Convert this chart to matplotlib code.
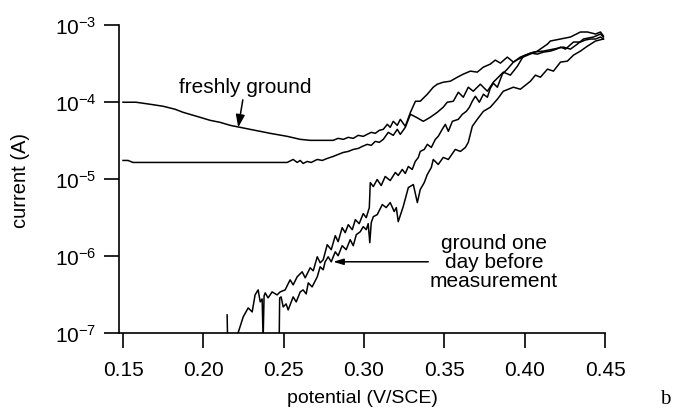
import numpy as np
import matplotlib
matplotlib.use("Agg")
import matplotlib.pyplot as plt
from matplotlib.ticker import FixedLocator, NullLocator

plt.rcParams['font.family'] = ['Liberation Sans', 'DejaVu Sans']
plt.rcParams['mathtext.default'] = 'regular'

# freshly ground, upper trace (potential in V, log10 of current in A)
a_pot = [0.1500, 0.1581, 0.1668, 0.1749, 0.1824, 0.1874, 0.1980, 0.2042, 0.2104, 0.2167,
         0.2229, 0.2291, 0.2354, 0.2416, 0.2522, 0.2603, 0.2665, 0.2808, 0.2839, 0.2871,
         0.2902, 0.2933, 0.2964, 0.2995, 0.3020, 0.3045, 0.3070, 0.3095, 0.3120, 0.3145,
         0.3163, 0.3182, 0.3207, 0.3226, 0.3257, 0.3289, 0.3320, 0.3350, 0.3394, 0.3431,
         0.3456, 0.3493, 0.3537, 0.3581, 0.3618, 0.3662, 0.3705, 0.3743, 0.3786, 0.3817,
         0.3849, 0.3892, 0.3930, 0.3961, 0.4004, 0.4079, 0.4142, 0.4160, 0.4223, 0.4285,
         0.4347, 0.4391, 0.4441, 0.4472, 0.4490]
a_log = [-4.003, -4.003, -4.029, -4.055, -4.094, -4.134, -4.199, -4.238, -4.264, -4.303,
         -4.329, -4.355, -4.381, -4.407, -4.446, -4.485, -4.498, -4.498, -4.472, -4.485,
         -4.459, -4.472, -4.433, -4.446, -4.420, -4.394, -4.407, -4.368, -4.355, -4.290,
         -4.329, -4.251, -4.303, -4.225, -4.316, -4.134, -3.990, -3.990, -3.899, -3.808,
         -3.769, -3.743, -3.730, -3.678, -3.638, -3.599, -3.612, -3.547, -3.508, -3.456,
         -3.495, -3.417, -3.482, -3.443, -3.404, -3.339, -3.248, -3.208, -3.182, -3.156,
         -3.091, -3.091, -3.117, -3.091, -3.143]

# freshly ground, lower trace
b_pot = [0.1500, 0.1531, 0.1562, 0.2522, 0.2559, 0.2584, 0.2603, 0.2621, 0.2646, 0.2671,
         0.2709, 0.2740, 0.2771, 0.2808, 0.2839, 0.2871, 0.2902, 0.2933, 0.2964, 0.2989,
         0.3020, 0.3045, 0.3070, 0.3095, 0.3120, 0.3151, 0.3182, 0.3207, 0.3226, 0.3257,
         0.3289, 0.3326, 0.3369, 0.3412, 0.3456, 0.3493, 0.3518, 0.3556, 0.3587, 0.3618,
         0.3649, 0.3680, 0.3724, 0.3768, 0.3805, 0.3836, 0.3867, 0.3911, 0.3955, 0.3992,
         0.4054, 0.4117, 0.4179, 0.4241, 0.4285, 0.4328, 0.4366, 0.4428, 0.4472, 0.4490]
b_log = [-4.759, -4.759, -4.785, -4.785, -4.746, -4.785, -4.759, -4.798, -4.772, -4.785,
         -4.746, -4.759, -4.733, -4.707, -4.681, -4.655, -4.642, -4.616, -4.603, -4.577,
         -4.550, -4.563, -4.511, -4.524, -4.485, -4.394, -4.433, -4.355, -4.420, -4.329,
         -4.160, -4.199, -4.251, -4.199, -4.134, -4.068, -4.003, -3.990, -3.873, -3.938,
         -3.808, -3.860, -3.769, -3.860, -3.743, -3.678, -3.612, -3.651, -3.534, -3.404,
         -3.352, -3.339, -3.313, -3.287, -3.313, -3.248, -3.182, -3.156, -3.117, -3.156]

# ground one day before, upper trace
c_pot = [0.2148, 0.2151, 0.2185, 0.2216, 0.2248, 0.2279, 0.2304, 0.2322, 0.2341, 0.2354,
         0.2366, 0.2372, 0.2378, 0.2385, 0.2403, 0.2428, 0.2459, 0.2478, 0.2509, 0.2540,
         0.2559, 0.2584, 0.2615, 0.2634, 0.2665, 0.2684, 0.2709, 0.2727, 0.2746, 0.2771,
         0.2796, 0.2821, 0.2839, 0.2864, 0.2883, 0.2902, 0.2927, 0.2946, 0.2970, 0.2995,
         0.3014, 0.3033, 0.3039, 0.3058, 0.3082, 0.3107, 0.3132, 0.3163, 0.3195, 0.3213,
         0.3238, 0.3257, 0.3276, 0.3300, 0.3319, 0.3338, 0.3350, 0.3375, 0.3394, 0.3419,
         0.3444, 0.3462, 0.3487, 0.3506, 0.3525, 0.3550, 0.3587, 0.3612, 0.3637, 0.3656,
         0.3674, 0.3693, 0.3718, 0.3743, 0.3768, 0.3786, 0.3805, 0.3830, 0.3861, 0.3892,
         0.3930, 0.3973, 0.4004, 0.4036, 0.4079, 0.4117, 0.4160, 0.4198, 0.4223, 0.4254,
         0.4304, 0.4347, 0.4378, 0.4409, 0.4441, 0.4472, 0.4490]
c_log = [-6.765, -7.091, -7.091, -7.000, -6.791, -6.674, -6.726, -6.505, -6.440, -6.596,
         -6.557, -7.091, -6.518, -6.479, -6.544, -6.466, -6.505, -6.466, -6.440, -6.309,
         -6.375, -6.270, -6.205, -6.283, -6.153, -6.192, -6.010, -6.088, -6.049, -5.853,
         -5.918, -5.736, -5.814, -5.632, -5.697, -5.593, -5.658, -5.528, -5.580, -5.449,
         -5.502, -5.371, -5.046, -5.098, -5.006, -5.085, -4.967, -5.020, -4.915, -4.954,
         -4.876, -4.928, -4.837, -4.876, -4.772, -4.720, -4.642, -4.616, -4.550, -4.590,
         -4.485, -4.446, -4.355, -4.290, -4.381, -4.251, -4.225, -4.160, -4.121, -4.068,
         -3.990, -3.925, -4.003, -3.899, -3.938, -3.821, -3.756, -3.808, -3.638, -3.573,
         -3.482, -3.417, -3.391, -3.365, -3.378, -3.352, -3.339, -3.313, -3.287, -3.313,
         -3.221, -3.221, -3.195, -3.182, -3.182, -3.156, -3.182]

# ground one day before, lower trace
d_pot = [0.2472, 0.2475, 0.2484, 0.2497, 0.2515, 0.2528, 0.2559, 0.2578, 0.2603, 0.2621,
         0.2640, 0.2653, 0.2677, 0.2709, 0.2727, 0.2746, 0.2758, 0.2777, 0.2796, 0.2821,
         0.2839, 0.2864, 0.2889, 0.2914, 0.2933, 0.2952, 0.2977, 0.2995, 0.3014, 0.3026,
         0.3036, 0.3045, 0.3058, 0.3082, 0.3114, 0.3138, 0.3163, 0.3188, 0.3201, 0.3213,
         0.3244, 0.3276, 0.3307, 0.3332, 0.3350, 0.3375, 0.3394, 0.3419, 0.3431, 0.3462,
         0.3493, 0.3525, 0.3568, 0.3600, 0.3631, 0.3649, 0.3674, 0.3705, 0.3743, 0.3786,
         0.3830, 0.3867, 0.3930, 0.3973, 0.4036, 0.4067, 0.4098, 0.4142, 0.4179, 0.4223,
         0.4266, 0.4304, 0.4347, 0.4391, 0.4441, 0.4490]
d_log = [-7.091, -6.544, -6.531, -6.661, -6.622, -6.700, -6.531, -6.596, -6.466, -6.440,
         -6.492, -6.349, -6.401, -6.270, -6.140, -6.179, -6.075, -6.010, -6.075, -5.945,
         -5.997, -5.866, -5.918, -5.788, -5.866, -5.723, -5.684, -5.619, -5.658, -5.580,
         -5.827, -5.567, -5.489, -5.463, -5.332, -5.371, -5.306, -5.423, -5.371, -5.554,
         -5.358, -5.111, -5.072, -5.306, -5.137, -5.046, -4.941, -4.850, -4.746, -4.811,
         -4.720, -4.746, -4.616, -4.642, -4.590, -4.524, -4.316, -4.225, -4.121, -4.068,
         -3.964, -3.860, -3.808, -3.834, -3.730, -3.651, -3.678, -3.573, -3.599, -3.482,
         -3.469, -3.391, -3.339, -3.274, -3.208, -3.182]

x_ticks = [0.15, 0.20, 0.25, 0.30, 0.35, 0.40, 0.45]
x_labels = ['0.15', '0.20', '0.25', '0.30', '0.35', '0.40', '0.45']
y_ticks = [1e-7, 1e-6, 1e-5, 1e-4, 1e-3]
y_labels = [r'$10^{-7}$', r'$10^{-6}$', r'$10^{-5}$', r'$10^{-4}$', r'$10^{-3}$']

fig = plt.figure(figsize=(6.75, 4.14), dpi=100)
ax = fig.add_axes([0.1763, 0.1932, 0.7200, 0.7440])

for pot, lg in [(a_pot, a_log), (b_pot, b_log), (c_pot, c_log), (d_pot, d_log)]:
    ax.plot(pot, 10 ** np.array(lg), color='black', lw=1.1)

ax.set_yscale('log')
ax.set_xlim(0.1475, 0.45)
ax.set_ylim(1e-7, 1e-3)
ax.yaxis.set_major_locator(FixedLocator(y_ticks))
ax.yaxis.set_minor_locator(NullLocator())
ax.set_yticklabels(y_labels)
ax.set_xticks(x_ticks)
ax.set_xticklabels(x_labels)

for s in ['top', 'right']:
    ax.spines[s].set_visible(False)
for s in ['left', 'bottom']:
    ax.spines[s].set_linewidth(1.2)
ax.tick_params(axis='both', direction='out', length=11, width=1.2, labelsize=15)
ax.tick_params(axis='x', pad=8.5)
ax.tick_params(axis='y', pad=5)

ax.set_xlabel('potential (V/SCE)', fontsize=14, labelpad=7)
ax.set_ylabel('current (A)', fontsize=14.5, labelpad=18)

ax.annotate('freshly ground', xy=(0.2217, 10 ** -4.329), xytext=(0.2260, 10 ** -3.795),
            ha='center', va='center', fontsize=15,
            arrowprops=dict(arrowstyle='-|>,head_length=0.5,head_width=0.18',
                            color='black', lw=1.1, shrinkA=1, shrinkB=0))

ax.annotate('', xy=(0.2808, 10 ** -6.075), xytext=(0.3400, 10 ** -6.075),
            arrowprops=dict(arrowstyle='-|>,head_length=0.6,head_width=0.18',
                            color='black', lw=1.1, shrinkA=0, shrinkB=0))
ax.text(0.3808, 10 ** -6.075, 'ground one\nday before\nmeasurement',
        ha='center', va='center', fontsize=15, linespacing=1.0)

fig.text(0.986, 0.034, 'b', family=['Liberation Serif', 'DejaVu Serif'],
         fontsize=15, ha='center', va='center')

fig.savefig('out.png', dpi=100)
